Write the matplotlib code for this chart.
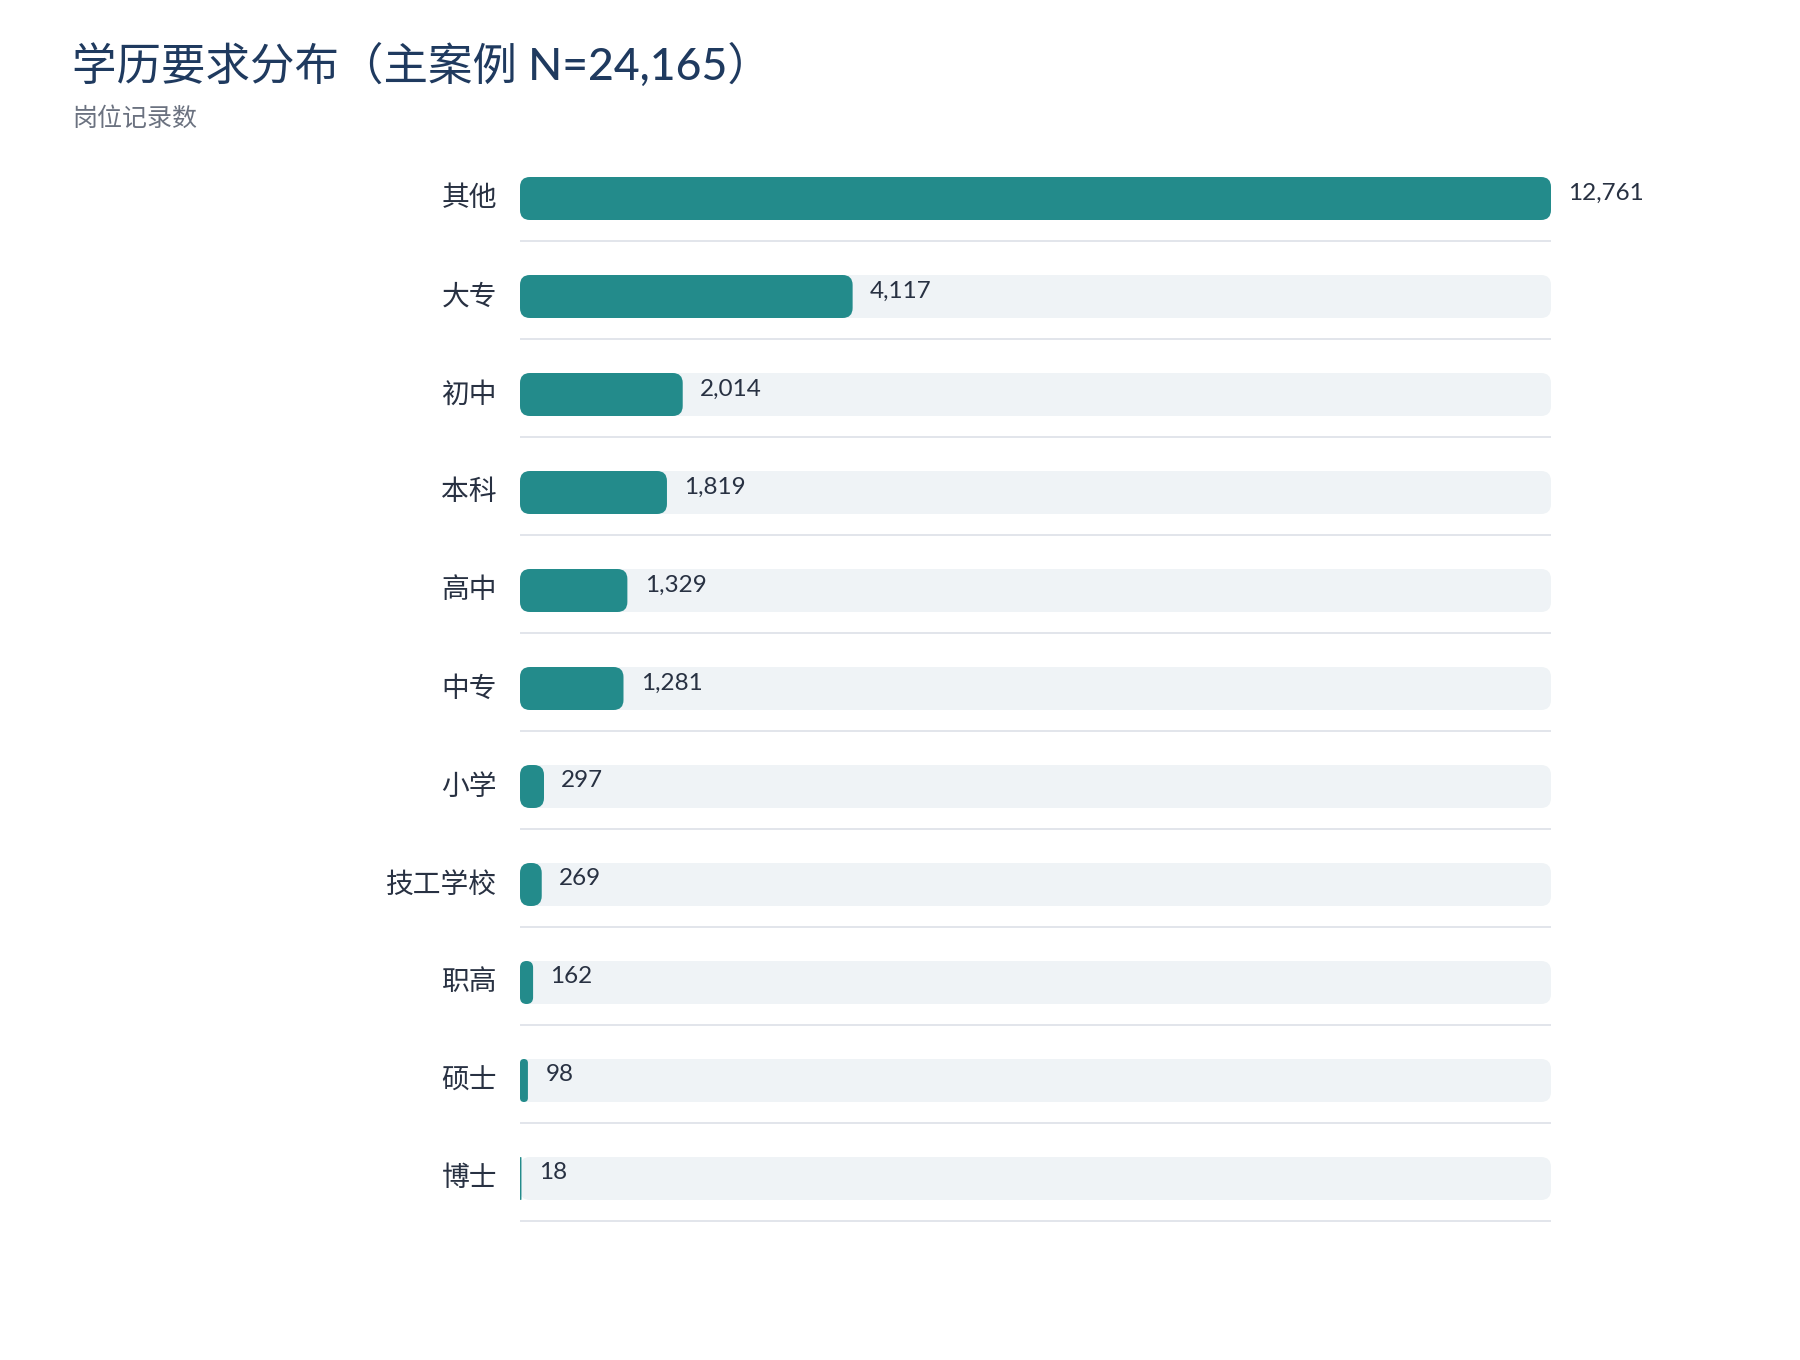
import matplotlib.pyplot as plt
from matplotlib.patches import FancyBboxPatch

plt.rcParams['font.family'] = ['Lato', 'Noto Sans CJK SC', 'DejaVu Sans']

categories = ['其他', '大专', '初中', '本科', '高中', '中专', '小学', '技工学校', '职高', '硕士', '博士']
counts = [12761, 4117, 2014, 1819, 1329, 1281, 297, 269, 162, 98, 18]

title = '学历要求分布（主案例 N=24,165）'
subtitle = '岗位记录数'

W, H = 1800, 1360
fig = plt.figure(figsize=(W / 100, H / 100), dpi=100)

# plot area in pixels
x0, x1 = 520, 1551
row_px = 98
y_top = 149.5
n = len(categories)
y_bot = y_top + n * row_px
ax = fig.add_axes([x0 / W, 1 - y_bot / H, (x1 - x0) / W, (y_bot - y_top) / H])
vmax = max(counts)
ax.set_xlim(0, vmax)
ax.set_ylim(n - 0.5, -0.5)
ax.axis('off')

px_x = (x1 - x0) / vmax      # pixels per count
aspect = px_x / row_px        # so corners stay round
bar_h = 43 / row_px

teal = '#238b8b'
track = '#eff3f6'
text_c = '#283142'

for i, (cat, v) in enumerate(zip(categories, counts)):
    ax.add_patch(FancyBboxPatch((0, i - bar_h / 2), vmax, bar_h,
                                boxstyle=f'round,pad=0,rounding_size={10 / px_x}',
                                mutation_aspect=aspect, fc=track, ec='none'))
    r = min(10, v * px_x / 2) / px_x
    ax.add_patch(FancyBboxPatch((0, i - bar_h / 2), v, bar_h,
                                boxstyle=f'round,pad=0,rounding_size={r}',
                                mutation_aspect=aspect, fc=teal, ec='none'))
    ax.plot([0, vmax], [i + 42.5 / row_px] * 2, color='#dde0e7', lw=1.2,
            solid_capstyle='butt')
    ax.text(-23 / px_x, i, cat, ha='right', va='center', fontsize=20,
            color=text_c, clip_on=False)
    ax.annotate(f'{v:,}', (v, i), xytext=(12.5, 4), textcoords='offset points',
                ha='left', va='center', fontsize=17.5, color=text_c,
                annotation_clip=False)

fig.text(72 / W, 1 - 66 / H, title, fontsize=32, va='center', color='#1f3a5f',
         fontweight='medium')
fig.text(72 / W, 1 - 118 / H, subtitle, fontsize=18, va='center', color='#6b7280')

fig.savefig('out.png', dpi=100, facecolor='white')
